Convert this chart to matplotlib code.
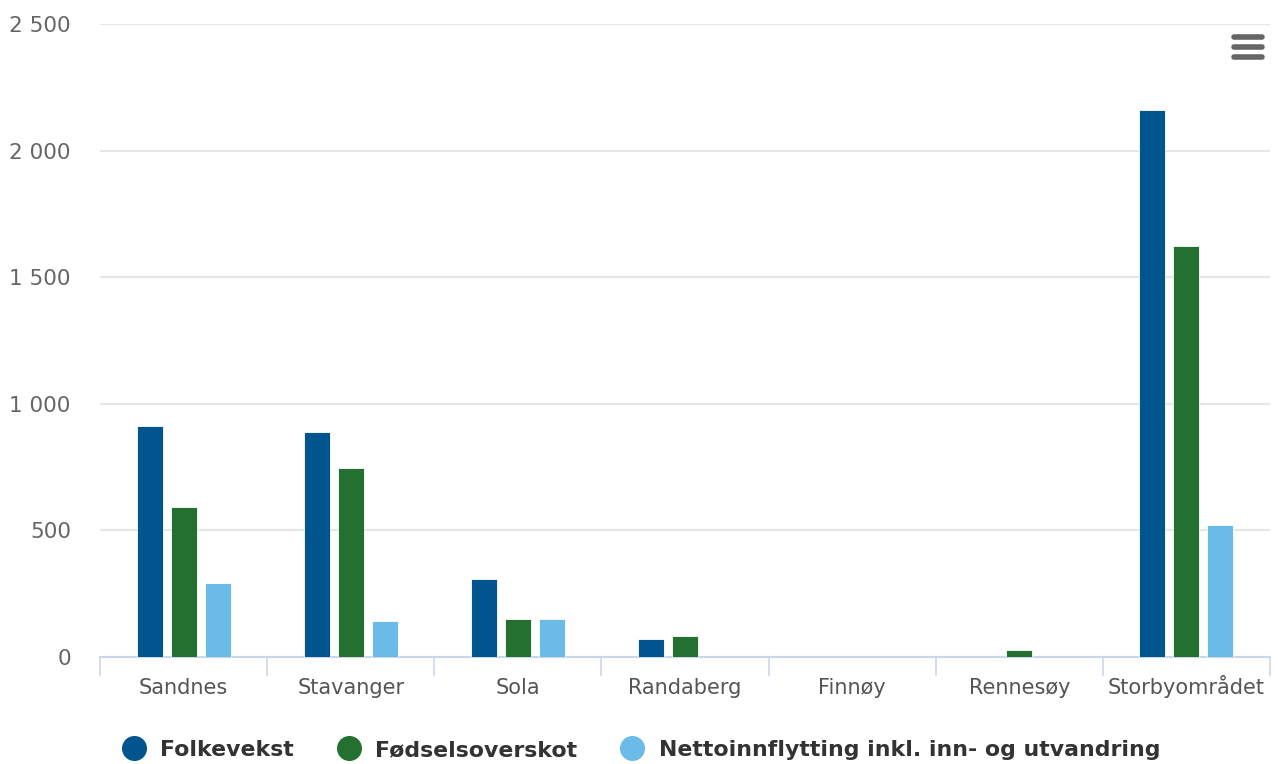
import matplotlib.pyplot as plt
from matplotlib.lines import Line2D
import numpy as np

# data
kommuner = ["Sandnes", "Stavanger", "Sola", "Randaberg", "Finnøy", "Rennesøy", "Storbyområdet"]
folkevekst = [912, 888, 310, 73, 0, 0, 2160]
fodselsoverskot = [594, 746, 152, 84, 0, 26, 1623]
nettoinnflytting = [294, 144, 152, 0, 0, 0, 522]

series = ["Folkevekst", "Fødselsoverskot", "Nettoinnflytting inkl. inn- og utvandring"]
colors = ["#00558f", "#237030", "#6bbbe8"]

fig = plt.figure(figsize=(12.78, 7.64), dpi=100)
ax = fig.add_axes([100 / 1278, 1 - 657 / 764, 1170 / 1278, 633 / 764])

x = np.arange(len(kommuner))
step = 34 / 167
width = 26 / 167
for i, (vals, c) in enumerate(zip([folkevekst, fodselsoverskot, nettoinnflytting], colors)):
    ax.bar(x + (i - 1) * step, vals, width, color=c, edgecolor="white", linewidth=0.6, zorder=3)

ax.set_xlim(-0.5, len(kommuner) - 0.5)
ax.set_ylim(0, 2500)

yt = [0, 500, 1000, 1500, 2000, 2500]
ax.set_yticks(yt)
ax.set_yticklabels([f"{v:,}".replace(",", " ") for v in yt], color="#666666", fontsize=15.5)
ax.tick_params(axis="y", length=0, pad=21)
ax.yaxis.grid(True, color="#e6e6e6", linewidth=1.5, zorder=0)

# category labels + boundary ticks
ax.set_xticks(x)
ax.set_xticklabels(kommuner, color="#555555", fontsize=15)
for lab in ax.get_xticklabels():
    lab.set_verticalalignment("baseline")
ax.tick_params(axis="x", length=0, pad=27)
ax.set_xticks(np.arange(len(kommuner) + 1) - 0.5, minor=True)
ax.tick_params(axis="x", which="minor", length=13.5, width=1.2, color="#ccd6eb")

for s in ["top", "right", "left"]:
    ax.spines[s].set_visible(False)
ax.spines["bottom"].set_color("#ccd6eb")
ax.spines["bottom"].set_linewidth(1.5)
ax.set_axisbelow(True)

# legend
handles = [Line2D([], [], marker="o", linestyle="", markersize=17, color=c) for c in colors]
fig.legend(handles, series, loc="center", bbox_to_anchor=(636 / 1278, 1 - 750 / 764), ncol=3,
           frameon=False, handletextpad=0.2, columnspacing=1.5,
           prop={"weight": "bold", "size": 15.8}, labelcolor="#333333")

# menu icon
for yy in [37, 47, 57]:
    fig.add_artist(Line2D([1234 / 1278, 1262 / 1278], [1 - yy / 764, 1 - yy / 764],
                          color="#666666", linewidth=4, solid_capstyle="round"))

fig.savefig("out.png", dpi=100)
